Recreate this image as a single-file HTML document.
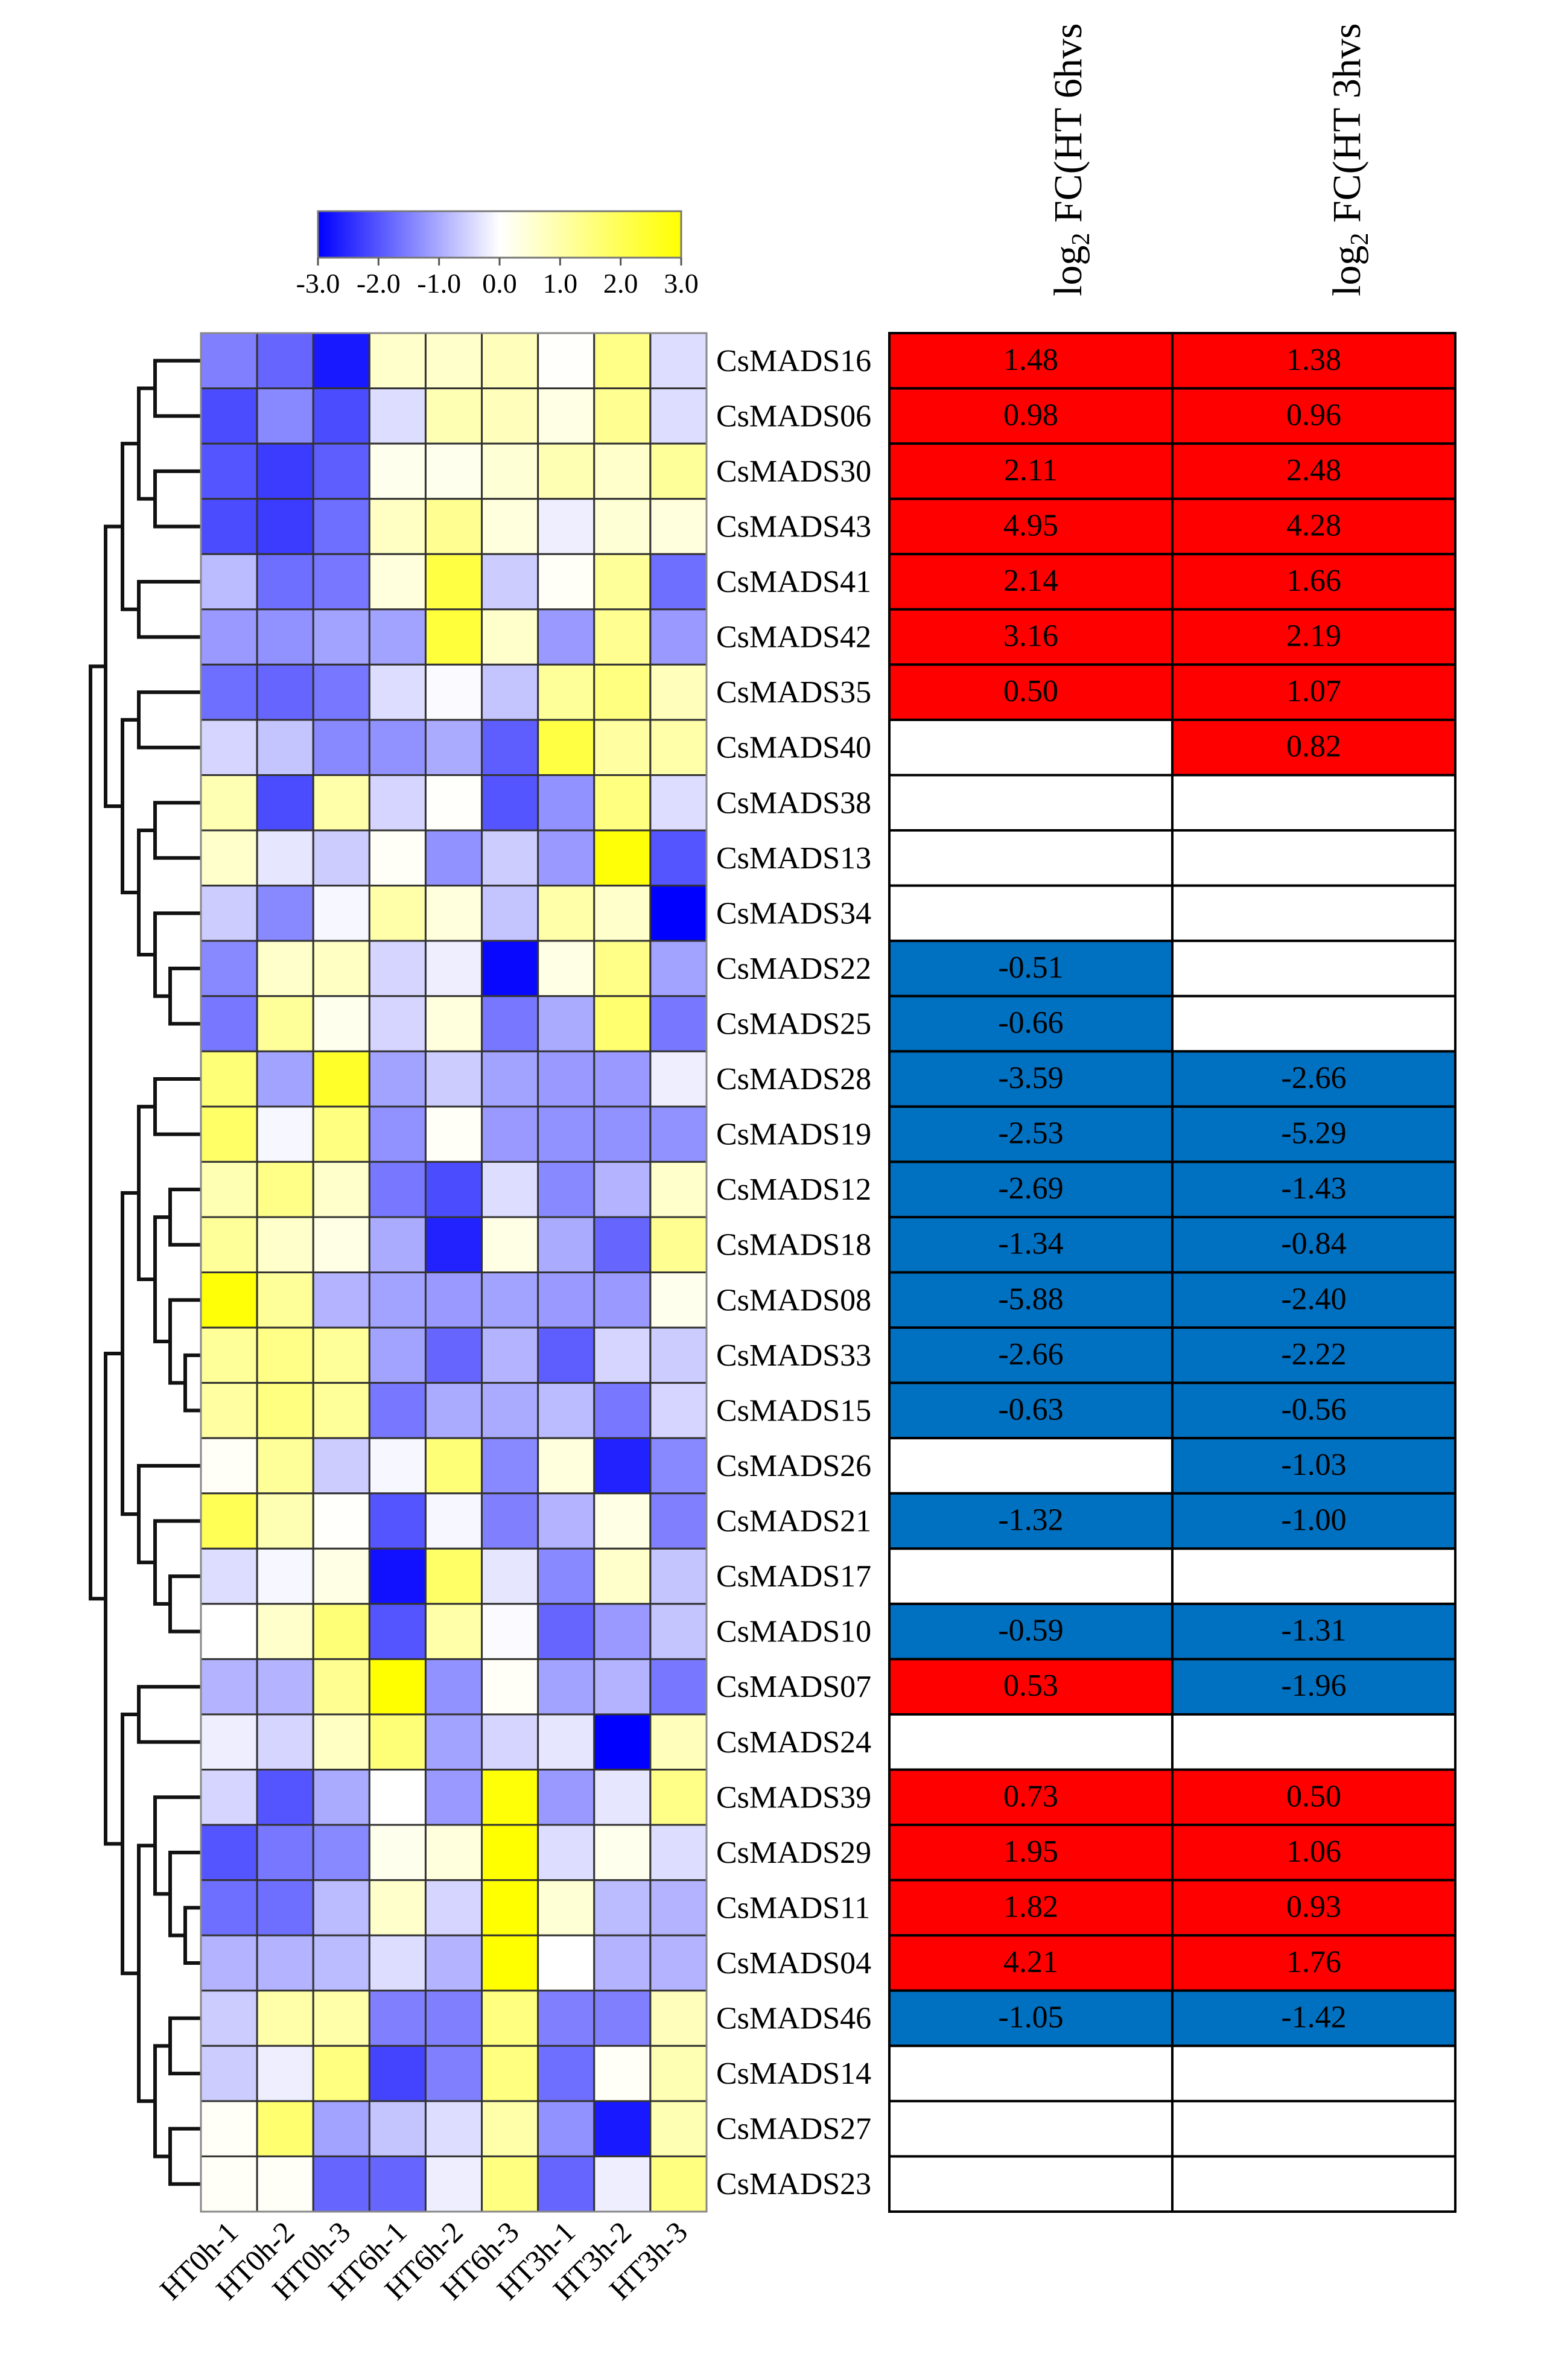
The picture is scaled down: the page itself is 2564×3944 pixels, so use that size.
<!DOCTYPE html>
<html><head><meta charset="utf-8"><title>CsMADS heatmap</title>
<style>
html,body{margin:0;padding:0;background:#fff;}
svg{display:block;}
text{font-family:"Liberation Serif",serif;fill:#000;}
</style></head>
<body>
<svg id="chart" xmlns="http://www.w3.org/2000/svg" width="2564" height="3944" viewBox="0 0 2564 3944">
<defs>
<linearGradient id="cbar" x1="0" x2="1" y1="0" y2="0">
<stop offset="0" stop-color="#0000ff"/><stop offset="0.5" stop-color="#ffffff"/><stop offset="1" stop-color="#ffff00"/>
</linearGradient>
</defs>
<g>
<rect x="527" y="350" width="602" height="77" fill="url(#cbar)" stroke="#777" stroke-width="3"/>
<g id="legendTicks"></g>
</g>
<g id="headers">
<text transform="translate(1792,491) rotate(-90)" font-size="66">log<tspan font-size="42" dy="13">2</tspan><tspan dy="-13"> FC(HT 6hvs</tspan></text>
<text transform="translate(2254,491) rotate(-90)" font-size="66">log<tspan font-size="42" dy="13">2</tspan><tspan dy="-13"> FC(HT 3hvs</tspan></text>
</g>
<g id="dendro"></g>
<g id="heat"></g>
<g id="rowLabels"></g>
<g id="colLabels"></g>
<g id="fcTable"></g>
</svg>
<script>
const genes = ["CsMADS16","CsMADS06","CsMADS30","CsMADS43","CsMADS41","CsMADS42","CsMADS35","CsMADS40","CsMADS38","CsMADS13","CsMADS34","CsMADS22","CsMADS25","CsMADS28","CsMADS19","CsMADS12","CsMADS18","CsMADS08","CsMADS33","CsMADS15","CsMADS26","CsMADS21","CsMADS17","CsMADS10","CsMADS07","CsMADS24","CsMADS39","CsMADS29","CsMADS11","CsMADS04","CsMADS46","CsMADS14","CsMADS27","CsMADS23"];
const samples = ["HT0h-1","HT0h-2","HT0h-3","HT6h-1","HT6h-2","HT6h-3","HT3h-1","HT3h-2","HT3h-3"];
const legendTicks = ["-3.0","-2.0","-1.0","0.0","1.0","2.0","3.0"];
const legendValues = [-3,-2,-1,0,1,2,3];
const expr = [
[-1.5,-1.8,-2.7,0.6,0.6,0.8,0.05,1.4,-0.4],
[-2.1,-1.4,-2.1,-0.4,0.9,0.8,0.3,1.3,-0.4],
[-2.0,-2.3,-1.9,0.2,0.2,0.5,0.9,0.6,1.2],
[-2.1,-2.3,-1.7,0.7,1.3,0.4,-0.2,0.5,0.4],
[-0.8,-1.7,-1.6,0.4,2.2,-0.6,0.1,1.2,-1.7],
[-1.2,-1.3,-1.1,-1.1,2.3,0.6,-1.2,1.3,-1.2],
[-1.7,-1.8,-1.6,-0.4,-0.05,-0.7,1.2,1.5,0.8],
[-0.5,-0.7,-1.4,-1.3,-1.0,-1.9,2.2,1.1,1.0],
[0.9,-2.1,1.0,-0.5,0.05,-2.0,-1.3,1.5,-0.4],
[0.6,-0.3,-0.6,0.1,-1.3,-0.6,-1.2,2.9,-2.0],
[-0.6,-1.4,-0.1,1.0,0.4,-0.7,1.0,0.6,-3.0],
[-1.4,0.6,0.7,-0.5,-0.2,-2.9,0.3,1.4,-1.1],
[-1.6,1.2,0.2,-0.5,0.4,-1.6,-1.0,1.7,-1.6],
[1.6,-1.1,2.5,-1.1,-0.6,-1.1,-1.2,-1.2,-0.2],
[1.8,-0.1,1.5,-1.3,0.1,-1.2,-1.3,-1.3,-1.3],
[0.9,1.4,0.6,-1.6,-2.1,-0.4,-1.4,-0.9,0.6],
[1.2,0.6,0.3,-1.0,-2.6,0.3,-1.0,-1.8,1.3],
[2.9,1.2,-0.9,-1.1,-1.2,-1.1,-1.2,-1.2,0.2],
[1.2,1.4,1.2,-1.1,-1.8,-0.9,-1.9,-0.5,-0.6],
[1.1,1.5,1.2,-1.6,-1.0,-1.0,-0.8,-1.6,-0.5],
[0.1,1.2,-0.6,-0.1,1.6,-1.4,0.4,-2.6,-1.4],
[2.0,0.9,0.05,-2.0,-0.1,-1.5,-0.9,0.3,-1.5],
[-0.4,-0.1,0.3,-2.8,1.8,-0.3,-1.4,0.6,-0.7],
[0.0,0.6,1.6,-2.0,1.0,-0.05,-1.8,-1.2,-0.7],
[-0.9,-0.9,1.3,3.0,-1.3,0.1,-1.1,-0.9,-1.6],
[-0.2,-0.5,0.7,1.6,-1.1,-0.5,-0.3,-3.0,0.8],
[-0.5,-2.0,-1.0,0.0,-1.2,2.9,-1.2,-0.3,1.4],
[-2.0,-1.6,-1.4,0.2,0.4,3.0,-0.4,0.2,-0.4],
[-1.7,-1.7,-0.8,0.6,-0.5,3.0,0.5,-0.8,-0.9],
[-0.9,-0.9,-0.8,-0.4,-0.9,3.0,0.0,-0.9,-0.9],
[-0.6,1.0,1.0,-1.5,-1.5,1.5,-1.5,-1.5,0.8],
[-0.6,-0.2,1.5,-2.2,-1.5,1.5,-1.7,0.1,0.9],
[0.1,1.7,-1.1,-0.7,-0.4,1.0,-1.3,-2.7,0.9],
[0.1,0.1,-1.8,-1.8,-0.2,1.5,-1.8,-0.2,1.5]
];
const fc6 = [1.48,0.98,2.11,4.95,2.14,3.16,0.50,null,null,null,null,-0.51,-0.66,-3.59,-2.53,-2.69,-1.34,-5.88,-2.66,-0.63,null,-1.32,null,-0.59,0.53,null,0.73,1.95,1.82,4.21,-1.05,null,null,null];
const fc3 = [1.38,0.96,2.48,4.28,1.66,2.19,1.07,0.82,null,null,null,null,null,-2.66,-5.29,-1.43,-0.84,-2.40,-2.22,-0.56,-1.03,-1.00,null,-1.31,-1.96,null,0.50,1.06,0.93,1.76,-1.42,null,null,null];

const NS = "http://www.w3.org/2000/svg";
function mk(tag, attrs, parent){const e=document.createElementNS(NS,tag);for(const k in attrs)e.setAttribute(k,attrs[k]);parent.appendChild(e);return e;}

const hx0=333, hx1=1171, hy0=552, hy1=3665;
const cw=(hx1-hx0)/samples.length, rh=(hy1-hy0)/genes.length;
const xCol=i=>hx0+i*cw, yRow=i=>hy0+i*rh;
function color(v){
  const t=Math.max(-1,Math.min(1,v/3));
  if(t<0){const c=Math.round(255*(1+t));return `rgb(${c},${c},255)`;}
  const c=Math.round(255*(1-t));return `rgb(255,255,${c})`;
}

const lt=document.getElementById('legendTicks');
const lx=v=>527+(v+3)/6*602;
legendValues.forEach((v,i)=>{
  const tk=mk('line',{x1:lx(v),x2:lx(v),y1:427,y2:440,stroke:'#555','stroke-width':3},lt);
  
  
  const t=mk('text',{x:lx(v),y:485,'font-size':46,'text-anchor':'middle',fill:'#333'},lt);
  
  
  t.textContent=legendTicks[i];
});

const heat=document.getElementById('heat');
expr.forEach((row,r)=>row.forEach((v,c)=>{
  const e=mk('rect',{x:xCol(c),y:yRow(r),width:cw,height:rh,fill:color(v),stroke:'#333','stroke-width':3},heat);
  
  
}));
mk('rect',{x:hx0,y:hy0,width:hx1-hx0,height:hy1-hy0,fill:'none',stroke:'#888','stroke-width':3},heat);

const rl=document.getElementById('rowLabels');
genes.forEach((g,i)=>{
  const t=mk('text',{x:1187,y:yRow(i)+rh/2+17,'font-size':52},rl);
  
  
  t.textContent=g;
});

const cl=document.getElementById('colLabels');
samples.forEach((s,i)=>{
  const x=xCol(i)+cw/2+18, y=3702;
  const t=mk('text',{transform:`translate(${x},${y}) rotate(-45)`,'font-size':50,'text-anchor':'end',fill:'#333'},cl);
  
  
  t.textContent=s;
});

const tb=document.getElementById('fcTable');
const tx0=1474, tmid=1943, tx1=2412;
function cell(x,w,r,v){
  const fill=v===null?'#fff':(v>0?'#ff0000':'#0070c0');
  const e=mk('rect',{x:x,y:yRow(r),width:w,height:rh,fill:fill,stroke:'#000','stroke-width':4},tb);
  
  
  if(v!==null){
    const t=mk('text',{x:x+w/2,y:yRow(r)+rh/2+15,'font-size':52,'text-anchor':'middle'},tb);
    
    
    t.textContent=v.toFixed(2);
  }
}
genes.forEach((g,r)=>{cell(tx0,tmid-tx0,r,fc6[r]);cell(tmid,tx1-tmid,r,fc3[r]);});

const levels=[150,175,203,230,257,282,307], leafX=333;
function N(l,a,b){return {l:l,c:[a,b]};}
const tree=N(0,
  N(1, N(2, N(3,N(4,0,1),N(4,2,3)), N(3,4,5)),
       N(2, N(3,6,7), N(3,N(4,8,9),N(4,10,N(5,11,12))))),
  N(1, N(2, N(3,N(4,13,14),N(4,N(5,15,16),N(5,17,N(6,18,19)))), N(3,20,N(4,21,N(5,22,23)))),
       N(2, N(3,24,25), N(3,N(4,26,N(5,27,N(6,28,29))),N(4,N(5,30,31),N(5,32,33))))));
const dg=document.getElementById('dendro');
function draw(n){
  if(typeof n==='number') return {x:leafX,y:yRow(n)+rh/2};
  const a=draw(n.c[0]), b=draw(n.c[1]), x=levels[n.l];
  const p=mk('path',{d:`M${a.x},${a.y}H${x}V${b.y}H${b.x}`,fill:'none',stroke:'#111','stroke-width':6},dg);
  
  
  return {x:x,y:(a.y+b.y)/2};
}
draw(tree);
</script>
</body></html>
